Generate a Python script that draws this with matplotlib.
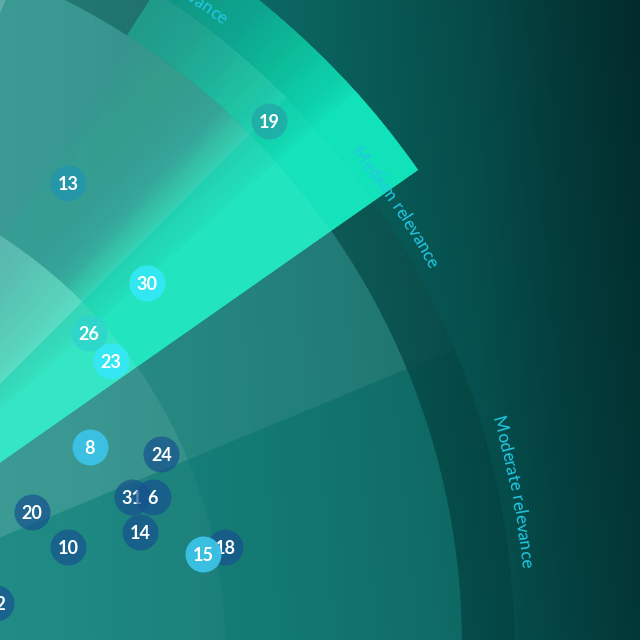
import numpy as np
import matplotlib.pyplot as plt
from matplotlib import font_manager

W = H = 640
DPI = 100

# radar layout (radius in px at this zoom level, angles in degrees from +x)
ring_edges = [0, 487, 724, 776]
outer_edge = 830
label_r = 787
sector_step = 22.5
sector_names = ["Moderate relevance", "Medium relevance", "High relevance"]

# white veil per sector (rows) and ring (columns)
veil = [
    [0.03, 0.00, 0.00],
    [0.15, 0.07, 0.02],
    [0.30, 0.15, 0.08],
    [0.40, 0.30, 0.15],
]

# selected segment and how it fades out per ring
sel_start, sel_solid, sel_end = 35.0, 42.0, 57.5
fade_angle = [42, 45, 48, 53, 57.5]
fade_alpha = [
    [1, 0.92, 0.7, 0.4, 0.15],
    [1, 0.9, 0.45, 0.15, 0.0],
    [1, 0.92, 0.75, 0.5, 0.35],
    [1, 0.88, 0.7, 0.47, 0.3],
]

# bubbles
ids = ["19", "13", "30", "26", "23", "8", "24", "31", "6", "20", "14", "10", "18", "15", "12"]
ang = [44.7, 54.5, 41.6, 41.7, 37.4, 29.5, 24.4, 20.7, 19.8, 24.5, 15.8, 16.7, 11.5, 11.2, 9.4]
rad = [747, 569, 547, 470, 469, 404, 465, 421, 441, 323, 418, 345, 497, 474, 262]
kind = ["muted", "mid", "new", "pale", "new", "rise", "core", "core", "core",
        "core", "core", "core", "core", "rise", "core"]

kind_style = {
    "core": ("#17528f", 0.7),
    "rise": ("#3cc3e6", 0.95),
    "new": ("#35e8f5", 0.95),
    "mid": ("#2596ac", 0.9),
    "muted": ("#22aaa8", 0.85),
    "pale": ("#2fd4cc", 0.85),
}
sel_color = "#12e2ba"
label_color = "#22c8e4"
label_size = 12.5
bubble_px = 36

# background gradient
xs = np.arange(W) + 0.5
ys = np.arange(H) + 0.5
stop_x = [0, 320, 480, 560, 640]
stop_c = np.array([[20, 128, 122], [11, 103, 98], [6, 84, 82], [4, 68, 67], [3, 55, 55]]) / 255
row = np.stack([np.interp(xs, stop_x, stop_c[:, k]) for k in range(3)], -1)
shade = 1 - 0.22 * (xs[None, :] / W) ** 2 * (1 - ys[:, None] / H)
img = np.clip(row[None, :, :] * shade[:, :, None], 0, 1)

fig = plt.figure(figsize=(W / DPI, H / DPI), dpi=DPI)
bg = fig.add_axes([0, 0, 1, 1])
bg.imshow(img, extent=[0, W, H, 0], aspect="auto", interpolation="bilinear")
bg.set_axis_off()

# polar axes whose centre sits off the canvas
cx, cy = -262, 646
rmax = 1000
half = rmax / W
ax = fig.add_axes([cx / W - half, (H - cy) / H - half, 2 * half, 2 * half], projection="polar")
ax.set_axis_off()

# inner disc and outer band
ax.bar(0, ring_edges[2], width=2 * np.pi, bottom=0, color="#2fb0a6", alpha=0.22, linewidth=0, zorder=1)
ax.bar(0, ring_edges[3] - ring_edges[2], width=2 * np.pi, bottom=ring_edges[2],
       color="black", alpha=0.1, linewidth=0, zorder=1)

# selected segment: stacked wedges that all start at sel_start
r_edges = ring_edges + [outer_edge]
ends = np.linspace(sel_solid, sel_end, 51)
mids = (ends[:-1] + ends[1:]) / 2
for k in range(4):
    trans = 1 - np.interp(mids, fade_angle, fade_alpha[k])
    nxt = np.append(trans[1:], 1.0)
    alphas = np.concatenate([[1.0], 1 - trans / nxt])
    for e, a in zip(ends, alphas):
        if a <= 0.001:
            continue
        ax.bar(np.deg2rad((sel_start + e) / 2), r_edges[k + 1] - r_edges[k],
               width=np.deg2rad(e - sel_start), bottom=r_edges[k],
               color=sel_color, alpha=min(a, 1.0), linewidth=0, zorder=2)

# sector veils
for s, alphas in enumerate(veil):
    for k, a in enumerate(alphas):
        if a > 0:
            ax.bar(np.deg2rad((s + 0.5) * sector_step), ring_edges[k + 1] - ring_edges[k],
                   width=np.deg2rad(sector_step), bottom=ring_edges[k],
                   color="white", alpha=a, linewidth=0, zorder=3)

# curved sector labels, one glyph at a time along the arc
lab_fp = font_manager.FontProperties(family="Lato", weight="normal", size=label_size)
ft = font_manager.get_font(font_manager.findfont(lab_fp))
ft.set_size(label_size, DPI)
for s, name in enumerate(sector_names):
    pen, centres = 0.0, []
    for c in name:
        g = ft.load_char(ord(c))
        centres.append(pen + (g.horiBearingX + g.width / 2) / 64)
        pen += g.linearHoriAdvance / 65536
    centres = np.array(centres) - pen / 2
    mid = (s + 0.5) * sector_step
    for c, p in zip(name, centres):
        if c == " ":
            continue
        t = mid - np.rad2deg(p / label_r)
        ax.text(np.deg2rad(t), label_r, c, rotation=t - 90, rotation_mode="anchor",
                ha="center", va="baseline", fontproperties=lab_fp, color=label_color, zorder=4)

# bubbles
s_pt = (bubble_px * 72 / DPI) ** 2
for i, (name, a, r, k) in enumerate(zip(ids, ang, rad, kind)):
    col, al = kind_style[k]
    ax.scatter(np.deg2rad(a), r, s=s_pt, color=col, alpha=al, linewidths=0, zorder=10 + 2 * i)
    ax.text(np.deg2rad(a), r, name, ha="center", va="center_baseline", color="white",
            family="Lato", fontweight="bold", fontsize=13, zorder=11 + 2 * i)

ax.set_ylim(0, rmax)
fig.savefig("out.png", dpi=DPI)
